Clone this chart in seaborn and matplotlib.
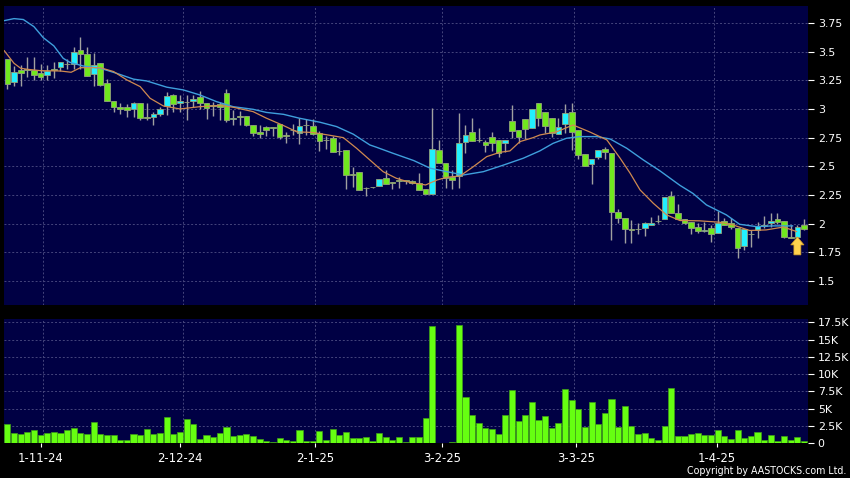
import matplotlib
matplotlib.use("Agg")
import matplotlib.pyplot as plt
import numpy as np
import pandas as pd
import seaborn as sns
from matplotlib.patches import FancyArrow

open_px = [3.44,3.233,3.337,3.348,3.337,3.31,3.30,3.347,3.37,3.392,
3.39,3.51,3.48,3.305,3.40,3.23,3.07,3.02,3.02,3.00,
3.055,2.927,2.93,2.96,3.025,3.125,3.05,3.062,3.07,3.10,
3.05,3.032,3.04,3.135,2.91,2.937,2.94,2.86,2.795,2.845,
2.842,2.866,2.772,2.819,2.788,2.86,2.855,2.788,2.732,2.75,
2.636,2.645,2.432,2.448,2.312,2.319,2.326,2.395,2.36,2.377,
2.377,2.375,2.358,2.305,2.256,2.645,2.532,2.41,2.416,2.715,
2.80,2.732,2.709,2.759,2.73,2.70,2.898,2.82,2.91,2.831,
3.049,2.977,2.924,2.779,2.866,2.977,2.82,2.608,2.52,2.578,
2.654,2.619,2.105,2.052,1.953,1.953,1.962,1.985,2.025,2.041,
2.241,2.096,2.041,2.012,1.968,1.933,1.959,1.916,2.026,2.003,
1.959,1.805,1.909,1.945,1.985,2.003,2.038,2.026,1.887,1.887,1.985]
close_px = [3.215,3.326,3.31,3.342,3.30,3.28,3.33,3.342,3.407,3.388,
3.50,3.477,3.285,3.38,3.21,3.07,3.02,3.00,2.99,3.05,
2.92,2.923,2.96,3.00,3.11,3.04,3.07,3.058,3.09,3.05,
3.01,3.028,3.02,2.90,2.925,2.933,2.86,2.79,2.78,2.82,
2.838,2.756,2.768,2.815,2.855,2.856,2.779,2.724,2.728,2.628,
2.632,2.427,2.428,2.297,2.308,2.315,2.387,2.349,2.356,2.373,
2.373,2.352,2.297,2.256,2.648,2.526,2.395,2.378,2.70,2.776,
2.724,2.728,2.683,2.70,2.619,2.733,2.805,2.759,2.823,2.997,
2.919,2.852,2.788,2.846,2.962,2.797,2.599,2.506,2.567,2.642,
2.625,2.102,2.047,1.951,1.942,1.949,2.009,2.009,2.021,2.23,
2.09,2.038,2.006,1.962,1.936,1.945,1.907,2.009,1.988,1.974,
1.785,1.956,1.905,1.98,1.981,2.026,2.017,1.881,1.872,1.974,1.951]
high_px = [3.44,3.375,3.38,3.456,3.45,3.39,3.38,3.41,3.407,3.44,
3.54,3.625,3.54,3.485,3.40,3.265,3.07,3.05,3.04,3.065,
3.055,3.05,2.975,3.02,3.145,3.13,3.125,3.12,3.125,3.16,
3.05,3.06,3.06,3.175,2.99,2.98,2.94,2.86,2.86,2.85,
2.845,2.87,2.80,2.866,2.919,2.91,2.91,2.81,2.76,2.76,
2.715,2.645,2.49,2.448,2.323,2.323,2.387,2.468,2.36,2.404,
2.38,2.38,2.439,2.305,3.006,2.73,2.532,2.468,2.962,2.86,
2.919,2.83,2.73,2.80,2.73,2.733,3.035,2.82,2.91,2.997,
3.049,2.977,2.924,2.919,3.044,3.049,2.82,2.608,2.567,2.642,
2.666,2.619,2.125,2.052,2.032,2.003,2.017,2.055,2.076,2.23,
2.285,2.169,2.041,2.012,2.009,2.012,1.988,2.108,2.047,2.047,
1.959,1.956,1.945,2.017,2.07,2.09,2.09,2.026,1.988,1.99,2.038]
low_px = [3.17,3.20,3.20,3.28,3.25,3.25,3.25,3.27,3.33,3.35,
3.35,3.35,3.285,3.20,3.20,3.07,2.97,2.955,2.93,2.93,
2.90,2.90,2.86,2.94,2.95,2.97,2.97,2.90,3.02,3.00,
2.91,2.94,2.90,2.89,2.86,2.86,2.85,2.76,2.75,2.765,
2.76,2.74,2.706,2.773,2.695,2.773,2.773,2.637,2.648,2.622,
2.60,2.302,2.323,2.294,2.244,2.308,2.326,2.346,2.302,2.308,
2.346,2.343,2.294,2.256,2.256,2.526,2.314,2.302,2.314,2.613,
2.724,2.715,2.628,2.637,2.578,2.628,2.75,2.70,2.738,2.831,
2.85,2.788,2.759,2.779,2.788,2.642,2.56,2.506,2.343,2.56,
2.56,1.858,2.003,1.828,1.834,1.91,1.895,1.985,2.009,2.041,
2.09,2.038,1.997,1.91,1.922,1.924,1.843,1.916,1.988,1.951,
1.698,1.77,1.80,1.872,1.96,1.97,2.0,1.872,1.872,1.887,1.945]
volume_k = [2.75,1.45,1.35,1.64,1.93,1.16,1.49,1.69,1.45,1.93,
2.2,1.45,1.3,3.1,1.4,1.2,1.2,.48,.48,1.3,
1.2,2.1,1.35,1.5,3.76,1.35,1.64,3.5,2.75,.67,
1.16,.96,1.45,2.36,1.1,1.2,1.35,1.06,.63,.3,
.25,.82,.43,.39,1.93,.34,.39,1.73,.43,2.0,
1.25,1.64,.82,.72,.87,.34,1.5,.92,.48,.87,
.14,.87,.87,3.6,16.9,.1,.02,.24,17.06,6.7,
4.14,2.9,2.17,2.12,1.4,4.05,7.66,3.18,4.05,6.0,
3.37,3.9,2.17,2.9,7.8,6.27,5.0,2.4,5.93,2.8,
4.34,6.46,2.36,5.35,2.55,1.4,1.5,.72,.48,2.55,
7.95,1.06,1.1,1.3,1.5,1.2,1.25,1.98,1.0,.67,
1.88,.72,1.06,1.69,.43,1.16,.29,1.06,.53,.96,.29]

ma_short_x = [-0.5,1,2,3,5,8,9.6,11,14,16,18,20,21.5,23.5,26,29,32,34,37,39,41.6,43.6,46,48.6,50.6,52.6,54.6,56.6,58.6,60.6,63,64.7,66.2,68.2,70.2,72.2,74.2,75.7,77.2,79.2,80.2,82.7,85.2,87.7,90.3,92.3,93.8,95.3,97.3,99.3,101.3,104.3,107.3,109.3,111.8,114.3,116.9,118.9]
ma_short = [3.51,3.398,3.355,3.346,3.334,3.331,3.32,3.36,3.36,3.326,3.253,3.195,3.093,3.026,3.0,3.02,3.03,3.015,2.977,2.92,2.855,2.80,2.795,2.77,2.75,2.657,2.555,2.453,2.395,2.36,2.337,2.38,2.404,2.416,2.497,2.584,2.622,2.634,2.715,2.75,2.773,2.80,2.86,2.80,2.73,2.57,2.44,2.294,2.177,2.076,2.027,2.024,2.012,1.988,1.94,1.945,1.97,1.93]
ma_long_x = [-0.5,1,2.4,4,5.4,7,8.4,9.4,11.4,14,16.5,19,21,24,26.5,29,31.5,34,37,39,41.6,44,47.1,49.6,52.1,54.6,55.6,58.1,61.2,63.7,66.2,68.7,71.7,74.7,77.7,80.2,82.2,84.2,86.2,88.8,90.8,93.3,95.8,98.3,101.3,103.3,105.3,108.3,110.3,112.8,115.3,118.3]
ma_long = [3.77,3.788,3.78,3.718,3.622,3.55,3.442,3.407,3.375,3.355,3.31,3.26,3.244,3.19,3.166,3.122,3.064,3.02,2.997,2.97,2.953,2.919,2.884,2.846,2.78,2.686,2.666,2.613,2.55,2.483,2.453,2.424,2.453,2.51,2.57,2.634,2.70,2.744,2.759,2.759,2.738,2.657,2.555,2.46,2.334,2.262,2.163,2.076,1.994,1.974,1.98,1.98]

price_ticks = [1.5,1.75,2,2.25,2.5,2.75,3,3.25,3.5,3.75]
price_labels = ["1.5","1.75","2","2.25","2.5","2.75","3","3.25","3.5","3.75"]
vol_ticks = [0,2.5,5,7.5,10,12.5,15,17.5]
vol_labels = ["0","2.5K","5K","7.5K","10K","12.5K","15K","17.5K"]
date_pos = [5,26,46.4,65.5,85.6,106.9]
date_labels = ["1-11-24","2-12-24","2-1-25","3-2-25","3-3-25","1-4-25"]
grid_pos = [5.4,26.5,46.3,65.5,85.4,106.4]

BG = "#000044"; GRID = "#45457c"; GREEN = "#70e81e"; CYAN = "#22f0ff"
sns.set_theme(style="dark")
plt.rcParams["font.family"] = ["DejaVu Sans"]
W, H = 850, 478
fig = plt.figure(figsize=(W/100, H/100), dpi=100, facecolor="black")
ax1 = fig.add_axes([4/W, 1-305/H, 804/W, 299/H])
ax2 = fig.add_axes([4/W, 1-443.3/H, 804/W, 124.3/H])

idx = np.arange(len(close_px))
df = pd.DataFrame({"i": idx, "open": open_px, "close": close_px, "high": high_px,
                   "low": low_px, "vol": volume_k})
ax1.vlines(df.i, df.low, df.high, color="#a0a0a0", lw=1, zorder=2)
colors = [CYAN if c > o else GREEN for o, c in zip(df.open, df.close)]
ax1.bar(df.i, (df.close-df.open).abs(), bottom=df[["open","close"]].min(axis=1),
        width=0.86, color=colors, edgecolor="#93a37a", linewidth=0.6, zorder=3)
sns.lineplot(x=ma_long_x, y=ma_long, ax=ax1, color="#3f9fdc", lw=1.0, zorder=4, estimator=None, sort=False)
sns.lineplot(x=ma_short_x, y=ma_short, ax=ax1, color="#d08a50", lw=0.9, zorder=5, estimator=None, sort=False)
ax1.add_patch(FancyArrow(119, 1.727, 0, 0.157, width=1.05, head_width=2.0, head_length=0.07,
                         length_includes_head=True, facecolor="#ffd24d", edgecolor="#d09a28",
                         linewidth=0.5, zorder=6))

sns.barplot(data=df, x="i", y="vol", ax=ax2, native_scale=True, color="#66ff11",
            saturation=1, width=0.92, edgecolor="#3f9f18", linewidth=0.5, zorder=3)

for ax in (ax1, ax2):
    ax.set_facecolor(BG)
    ax.set_xlim(-0.51, 120.6)
    ax.set_xlabel(""); ax.set_ylabel("")
    ax.yaxis.tick_right()
    ax.set_xticks(grid_pos, minor=True)
    ax.grid(False)
    ax.grid(True, which="minor", axis="x", color=GRID, ls=(0,(2,2)), lw=0.7, zorder=1)
    ax.grid(True, which="major", axis="y", color=GRID, ls=(0,(2,2)), lw=0.7, zorder=1)
    ax.set_axisbelow(True)
    for s in ax.spines.values():
        s.set_visible(False)
    ax.tick_params(axis="y", which="major", right=True, length=4, width=0.8, color="white",
                   labelcolor="white", labelsize=7.9, pad=3)
    ax.tick_params(axis="x", which="minor", length=0)

ax1.set_ylim(1.29, 3.898)
ax1.set_yticks(price_ticks, price_labels)
ax1.set_xticks([])
ax2.set_ylim(0, 17.98)
ax2.set_yticks(vol_ticks, vol_labels)
ax2.set_xticks(date_pos, date_labels)
ax2.tick_params(axis="x", which="major", bottom=True, length=3, width=0.8, color="white",
                labelcolor="white", labelsize=8.4, pad=3)
fig.text(846/W, 1-471.5/H, "Copyright by AASTOCKS.com Ltd.", color="white", fontsize=6.85,
         ha="right", va="center")
fig.savefig("out.png", dpi=100, facecolor="black")
